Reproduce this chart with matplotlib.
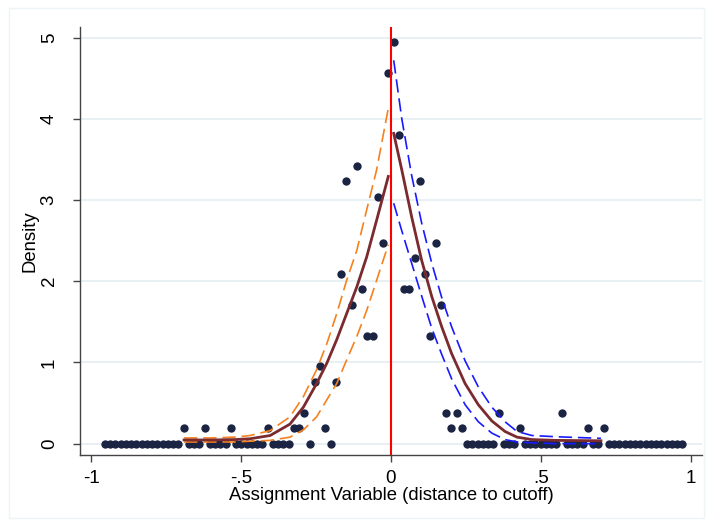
import numpy as np
import matplotlib
matplotlib.use("Agg")
import matplotlib.pyplot as plt
from matplotlib.patches import Rectangle

plt.rcParams['font.family'] = ['Liberation Sans', 'DejaVu Sans']

# ---- data ----
bin_width = 0.0175
# histogram densities, listed from the cutoff outward
left_density = [4.56, 2.47, 3.04, 1.33, 1.33, 1.90, 3.42, 1.71, 3.23, 2.09,
                0.76, 0.00, 0.19, 0.95, 0.76, 0.00, 0.38, 0.19, 0.19, 0.00,
                0.00, 0.00, 0.00, 0.19, 0.00, 0.00, 0.00, 0.00, 0.00, 0.00,
                0.19, 0.00, 0.00, 0.00, 0.00, 0.19, 0.00, 0.00, 0.00, 0.19,
                0.00, 0.00, 0.00, 0.00, 0.00, 0.00, 0.00, 0.00, 0.00, 0.00,
                0.00, 0.00, 0.00, 0.00, 0.00]
right_density = [4.94, 3.80, 1.90, 1.90, 2.28, 3.23, 2.09, 1.33, 2.47, 1.71,
                 0.38, 0.19, 0.38, 0.19, 0.00, 0.00, 0.00, 0.00, 0.00, 0.00,
                 0.38, 0.00, 0.00, 0.00, 0.19, 0.00, 0.00, 0.00, 0.00, 0.00,
                 0.00, 0.00, 0.38, 0.00, 0.00, 0.00, 0.00, 0.19, 0.00, 0.00,
                 0.19, 0.00, 0.00, 0.00, 0.00, 0.00, 0.00, 0.00, 0.00, 0.00,
                 0.00, 0.00, 0.00, 0.00, 0.00, 0.00]

# fitted density and confidence bands
left_x   = [-0.69, -0.60, -0.52, -0.47, -0.403, -0.337, -0.292, -0.248, -0.214, -0.181, -0.148, -0.114, -0.081, -0.048, -0.009]
left_fit = [0.045, 0.045, 0.05, 0.06, 0.10, 0.24, 0.45, 0.74, 0.99, 1.28, 1.60, 1.93, 2.30, 2.75, 3.29]
left_hi  = [0.07, 0.07, 0.08, 0.10, 0.16, 0.33, 0.58, 0.91, 1.23, 1.60, 2.01, 2.38, 2.88, 3.37, 4.13]
left_lo  = [0.02, 0.02, 0.02, 0.03, 0.04, 0.08, 0.17, 0.33, 0.54, 0.74, 1.03, 1.32, 1.64, 2.01, 2.45]

right_x   = [0.009, 0.036, 0.069, 0.102, 0.136, 0.169, 0.202, 0.247, 0.291, 0.336, 0.38, 0.42, 0.47, 0.55, 0.70]
right_fit = [3.82, 3.37, 2.79, 2.26, 1.81, 1.44, 1.11, 0.74, 0.48, 0.28, 0.15, 0.08, 0.05, 0.04, 0.035]
right_hi  = [4.72, 4.00, 3.30, 2.72, 2.22, 1.80, 1.44, 1.02, 0.70, 0.45, 0.27, 0.15, 0.10, 0.085, 0.065]
right_lo  = [2.96, 2.62, 2.22, 1.82, 1.42, 1.10, 0.80, 0.48, 0.27, 0.13, 0.05, 0.02, 0.01, 0.00, 0.00]

x_ticks = [-1, -0.5, 0, 0.5, 1]
x_tick_labels = ['-1', '-.5', '0', '.5', '1']
y_ticks = [0, 1, 2, 3, 4, 5]

# ---- figure ----
fig = plt.figure(figsize=(7.09, 5.21), dpi=100)
fig.patch.set_facecolor('white')
fig.patches.append(Rectangle((9/709, 3/521), 695/709, 510/521, transform=fig.transFigure,
                             fill=False, edgecolor='#eef3f5', linewidth=1.0))
ax = fig.add_axes([80/709, 1 - 455/521, 622/709, 428/521])

left_centers = [-(bin_width / 2 + bin_width * k) for k in range(len(left_density))]
right_centers = [bin_width / 2 + bin_width * k for k in range(len(right_density))]

dot_color = '#1b2443'
ax.plot(left_centers, left_density, 'o', color=dot_color, markersize=6.0, zorder=3, markeredgewidth=0)
ax.plot(right_centers, right_density, 'o', color=dot_color, markersize=6.0, zorder=3, markeredgewidth=0)

dash = (0, (8, 3.5))
ax.plot(left_x, left_hi, color='#f5811f', lw=1.2, linestyle=dash, zorder=4)
ax.plot(left_x, left_lo, color='#f5811f', lw=1.2, linestyle=dash, zorder=4)
ax.plot(left_x, left_fit, color='#7b2b2f', lw=2.0, zorder=5)
ax.plot(right_x, right_hi, color='#1a1aff', lw=1.2, linestyle=dash, zorder=4)
ax.plot(right_x, right_lo, color='#1a1aff', lw=1.2, linestyle=dash, zorder=4)
ax.plot(right_x, right_fit, color='#7b2b2f', lw=2.0, zorder=5)

ax.axvline(0, color='#ff0000', lw=1.5, zorder=6)

ax.set_xlim(-1.037, 1.037)
ax.set_ylim(-0.14, 5.13)
ax.set_xticks(x_ticks)
ax.set_xticklabels(x_tick_labels)
ax.set_yticks(y_ticks)
ax.set_yticklabels([str(v) for v in y_ticks], rotation=90, va='center')
ax.tick_params(axis='both', direction='out', length=5, width=1, color='#444444',
               labelsize=13.5, labelcolor='black')
ax.tick_params(axis='x', pad=6)
ax.tick_params(axis='y', pad=11)
ax.yaxis.grid(True, color='#e3edf1', lw=1.2)
ax.set_axisbelow(True)
for s in ['top', 'right']:
    ax.spines[s].set_visible(False)
for s in ['left', 'bottom']:
    ax.spines[s].set_color('#444444')
    ax.spines[s].set_linewidth(1.0)

ax.set_xlabel('Assignment Variable (distance to cutoff)', fontsize=13.3, labelpad=0)
ax.set_ylabel('Density', fontsize=13.3, labelpad=2)

fig.savefig('out.png', dpi=100)
